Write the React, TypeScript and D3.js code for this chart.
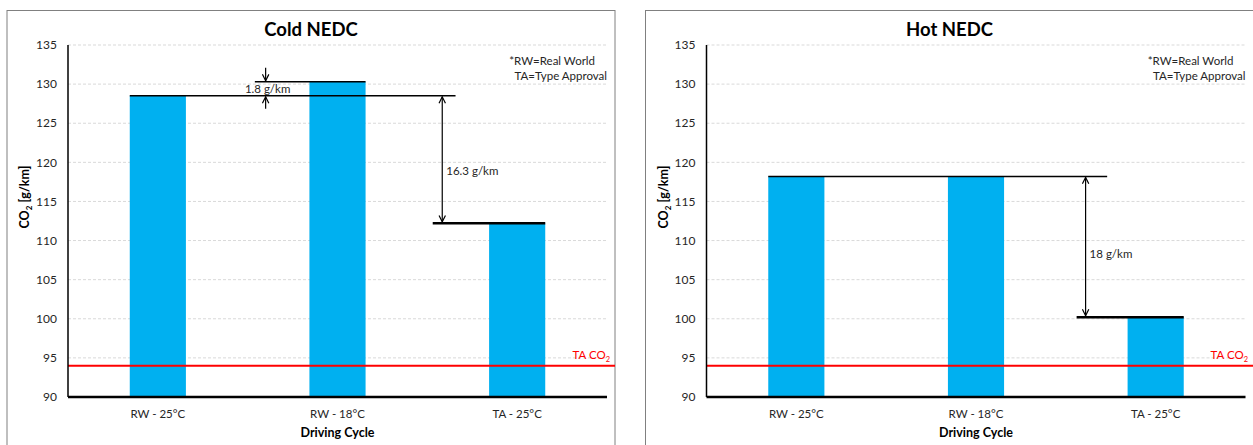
import React from "react";
import * as d3 from "d3";

// values
const categories = ["RW - 25°C", "RW - 18°C", "TA - 25°C"];
const coldValues = [128.5, 130.3, 112.2];
const hotValues = [118.2, 118.2, 100.2];
const yTicks = [90, 95, 100, 105, 110, 115, 120, 125, 130, 135];
const taCo2 = 94;

// annotation levels / arrows, x in category-step units (0..3)
const coldLevels = [
  { value: 128.5, from: 0.34375, to: 2.157 },
  { value: 130.3, from: 1.04, to: 1.65625 },
  { value: 112.2, from: 2.03, to: 2.65625 },
];
const coldArrows = [{ x: 2.083, top: 128.5, bottom: 112.2, label: "16.3 g/km", labelAt: 118.9 }];
const coldSmallArrows = [{ x: 1.1, top: 130.3, bottom: 128.5, label: "1.8 g/km" }];

const hotLevels = [
  { value: 118.2, from: 0.34375, to: 2.23 },
  { value: 100.2, from: 2.06, to: 2.65625 },
];
const hotArrows = [{ x: 2.11, top: 118.2, bottom: 100.2, label: "18 g/km", labelAt: 108.3 }];

const FONT = "Lato, 'Open Sans', sans-serif";
const BAR = "#00B0F0";

const panel = { w: 608, plotLeft: 61, plotRight: 600, top: 45, bottom: 397 };

type Level = { value: number; from: number; to: number };
type Arrow = { x: number; top: number; bottom: number; label: string; labelAt: number };
type Small = { x: number; top: number; bottom: number; label: string };

function Panel(props: {
  left: number;
  title: string;
  values: number[];
  levels: Level[];
  arrows: Arrow[];
  small: Small[];
  edge: number;
}) {
  const { left, title, values, levels, arrows, small, edge } = props;
  const x0 = left + panel.plotLeft;
  const x1 = left + panel.plotRight;

  const x = d3.scaleBand<string>().domain(categories).range([x0, x1]).paddingInner(0.6875).paddingOuter(0.34375);
  const step = d3.scaleLinear().domain([0, 3]).range([x0, x1]);
  const y = d3.scaleLinear().domain([90, 135]).range([panel.bottom, panel.top]);

  return (
    <g fontFamily={FONT}>
      <rect x={left} y={10.5} width={panel.w} height={460} fill="#fff" stroke="#808080" strokeWidth={1} />
      <text x={left + panel.w / 2} y={36} textAnchor="middle" fontSize={18.5} fontWeight="bold" fill="#000">
        {title}
      </text>

      {/* grid */}
      {yTicks.filter((t) => t !== 90).map((t) => (
        <line key={t} x1={x0} x2={x1} y1={y(t)} y2={y(t)} stroke="#d9d9d9" strokeDasharray="3,2" />
      ))}
      {yTicks.map((t) => (
        <text key={t} x={x0 - 11} y={y(t)} dy="0.35em" textAnchor="end" fontSize={12} fill="#262626">
          {t}
        </text>
      ))}

      {/* bars */}
      {values.map((v, i) => (
        <rect key={i} x={x(categories[i])} y={y(v)} width={x.bandwidth()} height={y(90) - y(v)} fill={BAR} />
      ))}

      {/* TA CO2 reference */}
      <line x1={x0} x2={edge} y1={y(taCo2)} y2={y(taCo2)} stroke="#ff0000" strokeWidth={2} />
      <text x={edge - 5} y={y(taCo2) - 7} textAnchor="end" fontSize={11.5} fill="#ff0000">
        TA CO<tspan fontSize={7.5} dy={3}>2</tspan>
      </text>

      {/* axes */}
      <line x1={x0} x2={x0} y1={panel.top} y2={panel.bottom} stroke="#000" strokeWidth={1.5} />
      <line x1={x0} x2={x1} y1={panel.bottom} y2={panel.bottom} stroke="#000" strokeWidth={2.5} />
      {categories.map((c) => (
        <text key={c} x={(x(c) as number) + x.bandwidth() / 2} y={418} textAnchor="middle" fontSize={11.5} fill="#262626">
          {c}
        </text>
      ))}
      <text x={(x0 + x1) / 2} y={437} textAnchor="middle" fontSize={12.5} fontWeight="bold" fill="#000">
        Driving Cycle
      </text>
      <text transform={`translate(${left + 22},197) rotate(-90)`} textAnchor="middle" fontSize={12.5} fontWeight="bold" fill="#000">
        CO<tspan fontSize={8} dy={3}>2</tspan>
        <tspan dy={-3}> [g/km]</tspan>
      </text>

      {/* notes */}
      <text x={x1 - 12} y={65} textAnchor="end" fontSize={11.5} fill="#262626">
        *RW=Real World
      </text>
      <text x={x1} y={80} textAnchor="end" fontSize={11.5} fill="#262626">
        TA=Type Approval
      </text>

      {/* difference annotations */}
      {levels.map((l, i) => (
        <line key={i} x1={step(l.from)} x2={step(l.to)} y1={y(l.value)} y2={y(l.value)} stroke="#000"
          strokeWidth={l.to > 2.5 ? 2.5 : 1.5} />
      ))}
      {arrows.map((a, i) => (
        <g key={i}>
          <line x1={step(a.x)} x2={step(a.x)} y1={y(a.top) + 1} y2={y(a.bottom) - 1.5} stroke="#000" strokeWidth={1.2}
            markerStart="url(#arrowOpen)" markerEnd="url(#arrowOpen)" />
          <text x={step(a.x) + 4} y={y(a.labelAt)} dy="0.35em" fontSize={11.5} fill="#262626">
            {a.label}
          </text>
        </g>
      ))}
      {small.map((a, i) => (
        <g key={i}>
          <line x1={step(a.x)} x2={step(a.x)} y1={y(a.top) - 14} y2={y(a.top) - 1} stroke="#000" strokeWidth={1.2}
            markerEnd="url(#arrowOpen)" />
          <line x1={step(a.x)} x2={step(a.x)} y1={y(a.bottom) + 13} y2={y(a.bottom) + 1} stroke="#000" strokeWidth={1.2}
            markerEnd="url(#arrowOpen)" />
          <text x={step(a.x) + 2} y={(y(a.top) + y(a.bottom)) / 2 + 0.5} dy="0.35em" textAnchor="middle" fontSize={11.5} fill="#262626">
            {a.label}
          </text>
        </g>
      ))}
    </g>
  );
}

export default function App() {
  return (
    <div style={{ position: "absolute", left: 0, top: 0 }}>
      <svg width={1253} height={445} style={{ display: "block", background: "#fff" }}>
        <defs>
          <marker id="arrowOpen" viewBox="0 0 10 10" refX={9} refY={5} markerWidth={8} markerHeight={8}
            markerUnits="userSpaceOnUse" orient="auto-start-reverse">
            <path d="M1,1 L9,5 L1,9" fill="none" stroke="#000" strokeWidth={1.5} />
          </marker>
        </defs>
        <Panel left={7} title="Cold NEDC" values={coldValues} levels={coldLevels} arrows={coldArrows}
          small={coldSmallArrows} edge={615} />
        <Panel left={645.5} title="Hot NEDC" values={hotValues} levels={hotLevels} arrows={hotArrows}
          small={[]} edge={1253} />
      </svg>
    </div>
  );
}
